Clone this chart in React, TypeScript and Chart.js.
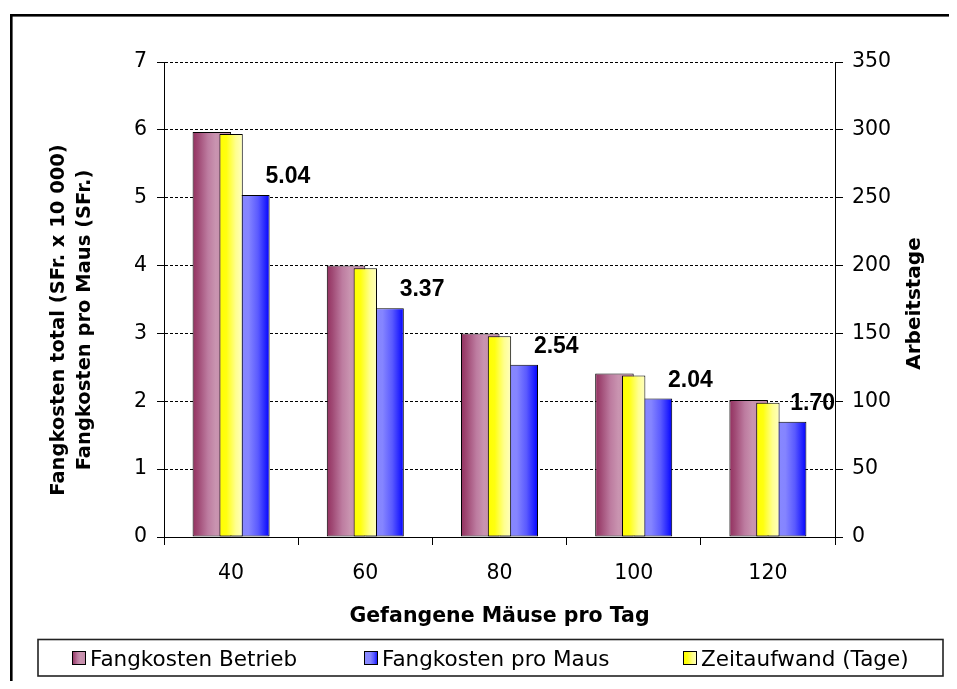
import React, { useEffect, useRef } from 'react';
import { Chart, registerables } from 'chart.js';

Chart.register(...registerables);

// ---- data ----
const categories = ['40', '60', '80', '100', '120'];
const fangkostenBetrieb = [5.97, 4.0, 3.0, 2.41, 2.02];
const fangkostenProMaus = [5.04, 3.37, 2.54, 2.04, 1.7];
const zeitaufwandTage = [297, 198, 148, 119, 99];
const seriesLabels = ['Fangkosten Betrieb', 'Fangkosten pro Maus', 'Zeitaufwand (Tage)'];
const leftAxisTitle = ['Fangkosten total (SFr. x 10 000)', 'Fangkosten pro Maus (SFr.)'];
const rightAxisTitle = 'Arbeitstage';
const xAxisTitle = 'Gefangene Mäuse pro Tag';

// ---- styles ----
const FONT = '"DejaVu Sans", "Liberation Sans", sans-serif';
const LABEL_FONT = '"Liberation Sans", Arial, sans-serif';

type Stops = [number, string][];
const maroonStops: Stops = [
  [0, '#93305f'],
  [0.15, '#a04a75'],
  [0.4, '#bd7ca0'],
  [0.6, '#c994b0'],
  [1, '#c48aa8'],
];
const blueStops: Stops = [
  [0, '#8b8bff'],
  [0.45, '#8585ff'],
  [0.7, '#5a5aff'],
  [0.9, '#2020ff'],
  [1, '#0000ff'],
];
const yellowStops: Stops = [
  [0, '#ffff00'],
  [0.3, '#ffff10'],
  [0.7, '#ffff90'],
  [1, '#ffffc0'],
];
const gradientStops = [maroonStops, blueStops, yellowStops];

function makeGradient(ctx: CanvasRenderingContext2D, x0: number, x1: number, stops: Stops) {
  const g = ctx.createLinearGradient(x0, 0, x1, 0);
  stops.forEach(([o, c]) => g.addColorStop(o, c));
  return g;
}

const legendSquareX = [64, 356, 675];

const customPlugin = {
  id: 'customDecor',
  beforeDatasetsDraw(chart: any) {
    const ctx = chart.ctx as CanvasRenderingContext2D;
    chart.data.datasets.forEach((_: any, i: number) => {
      const meta = chart.getDatasetMeta(i);
      meta.data.forEach((el: any) => {
        const x0 = el.x - el.width / 2;
        const x1 = el.x + el.width / 2;
        if (el.options) el.options.backgroundColor = makeGradient(ctx, x0, x1, gradientStops[i]);
      });
    });
  },
  afterDatasetsDraw(chart: any) {
    const ctx = chart.ctx as CanvasRenderingContext2D;
    const meta = chart.getDatasetMeta(1);
    const right = chart.chartArea.right;
    ctx.save();
    ctx.font = `bold 23px ${LABEL_FONT}`;
    ctx.fillStyle = '#000';
    ctx.textAlign = 'center';
    ctx.textBaseline = 'alphabetic';
    meta.data.forEach((el: any, idx: number) => {
      const text = fangkostenProMaus[idx].toFixed(2);
      const w = ctx.measureText(text).width;
      let cx = el.x + 37.5;
      if (cx + w / 2 > right) cx = right - w / 2;
      ctx.fillText(text, cx, el.y - 12);
    });
    ctx.restore();
  },
  afterDraw(chart: any) {
    const ctx = chart.ctx as CanvasRenderingContext2D;
    ctx.save();
    // outer frame
    ctx.strokeStyle = '#000';
    ctx.lineWidth = 2.6;
    ctx.strokeRect(3.3, 7.3, 2000, 2000);

    ctx.fillStyle = '#000';
    // left axis title (two lines, rotated)
    ctx.font = `bold 19.5px ${FONT}`;
    ctx.textAlign = 'center';
    ctx.textBaseline = 'alphabetic';
    const leftBaselines = [55.6, 82.3];
    leftAxisTitle.forEach((line, i) => {
      ctx.save();
      ctx.translate(leftBaselines[i], 312);
      ctx.rotate(-Math.PI / 2);
      ctx.fillText(line, 0, 0);
      ctx.restore();
    });
    // right axis title
    ctx.font = `bold 20px ${FONT}`;
    ctx.save();
    ctx.translate(912, 295.5);
    ctx.rotate(-Math.PI / 2);
    ctx.fillText(rightAxisTitle, 0, 0);
    ctx.restore();
    // x axis title
    ctx.font = `bold 20.5px ${FONT}`;
    const ca = chart.chartArea;
    ctx.fillText(xAxisTitle, (ca.left + ca.right) / 2, 614);

    // legend box
    ctx.strokeStyle = '#222';
    ctx.lineWidth = 1.6;
    ctx.strokeRect(30, 631.5, 905, 36.5);
    ctx.font = `21.5px ${FONT}`;
    ctx.textAlign = 'left';
    seriesLabels.forEach((lab, i) => {
      const sx = legendSquareX[i];
      const sy = 643;
      const size = 14;
      ctx.fillStyle = makeGradient(ctx, sx, sx + size, gradientStops[i]);
      ctx.fillRect(sx, sy, size, size);
      ctx.strokeStyle = '#000';
      ctx.lineWidth = 1;
      ctx.strokeRect(sx + 0.5, sy + 0.5, size - 1, size - 1);
      ctx.fillStyle = '#000';
      ctx.fillText(lab, sx + 18, 658);
    });
    ctx.restore();
  },
};

export default function App() {
  const canvasRef = useRef<HTMLCanvasElement | null>(null);

  useEffect(() => {
    const canvas = canvasRef.current;
    if (!canvas) return;
    const tickFont = { family: FONT, size: 20.5 };
    const chart = new Chart(canvas, {
      type: 'bar',
      data: {
        labels: categories,
        datasets: [
          {
            label: seriesLabels[0],
            data: fangkostenBetrieb,
            xAxisID: 'x',
            yAxisID: 'y',
            backgroundColor: () => '#c994b0',
            borderColor: '#000',
            borderWidth: 1,
            borderSkipped: false,
            categoryPercentage: 0.574,
            barPercentage: 1,
            order: 1,
          },
          {
            label: seriesLabels[1],
            data: fangkostenProMaus,
            xAxisID: 'x',
            yAxisID: 'y',
            backgroundColor: () => '#8585ff',
            borderColor: '#000',
            borderWidth: 1,
            borderSkipped: false,
            categoryPercentage: 0.574,
            barPercentage: 1,
            order: 2,
          },
          {
            label: seriesLabels[2],
            data: zeitaufwandTage,
            xAxisID: 'x',
            yAxisID: 'y2',
            grouped: false,
            backgroundColor: () => '#ffff80',
            borderColor: '#000',
            borderWidth: 1,
            borderSkipped: false,
            categoryPercentage: 0.174,
            barPercentage: 1,
            order: 0,
          },
        ],
      },
      options: {
        animation: false,
        responsive: true,
        maintainAspectRatio: false,
        layout: { padding: { top: 54, left: 0, right: 0, bottom: 0 } },
        plugins: {
          legend: { display: false },
          tooltip: { enabled: false },
          title: { display: false },
        },
        scales: {
          x: {
            type: 'category',
            position: 'bottom',
            offset: true,
            grid: {
              display: true,
              offset: true,
              drawOnChartArea: false,
              drawTicks: true,
              tickLength: 8,
              color: '#000',
              tickColor: '#000',
              lineWidth: 1,
            },
            border: { display: true, color: '#000', width: 1 },
            ticks: { color: '#000', font: tickFont, padding: 16, maxRotation: 0, autoSkip: false },
            afterFit: (s: any) => {
              s.height = 152;
            },
          },
          y: {
            position: 'left',
            min: 0,
            max: 7,
            ticks: { stepSize: 1, color: '#000', font: tickFont, padding: 10 },
            grid: {
              color: '#000',
              lineWidth: 1,
              drawTicks: true,
              tickLength: 7,
              tickColor: '#000',
            },
            border: { display: true, color: '#000', width: 1, dash: [3, 2] },
            afterFit: (s: any) => {
              s.width = 156;
            },
          },
          y2: {
            position: 'right',
            min: 0,
            max: 350,
            ticks: { stepSize: 50, color: '#000', font: tickFont, padding: 9 },
            grid: {
              drawOnChartArea: false,
              drawTicks: true,
              tickLength: 8,
              color: '#000',
              tickColor: '#000',
            },
            border: { display: true, color: '#000', width: 1 },
            afterFit: (s: any) => {
              s.width = 122;
            },
          },
        },
      } as any,
      plugins: [customPlugin],
    });
    return () => chart.destroy();
  }, []);

  return (
    <div style={{ position: 'relative', width: 949, height: 681, marginBottom: -8 }}>
      <canvas ref={canvasRef} />
    </div>
  );
}
